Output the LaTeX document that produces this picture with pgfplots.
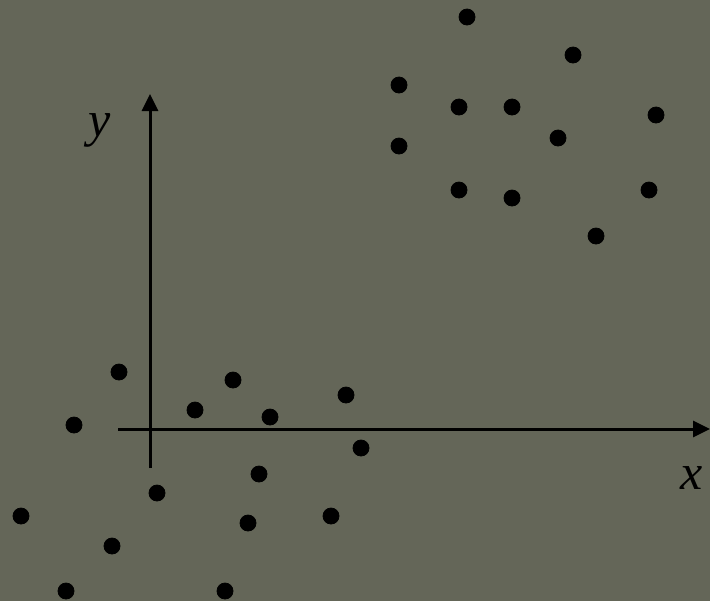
\documentclass[border=0pt]{standalone}
\usepackage{pgfplots}
\pgfplotsset{compat=1.18}
\usepackage{fontspec}
\setmainfont{Liberation Serif}
\usetikzlibrary{arrows.meta}
\definecolor{bg}{HTML}{646658}

\pgfplotstableread{
x y
467 17
573 55
399 85
459 107
512 107
656 115
558 138
399 146
459 190
512 198
649 190
596 236
119 372
233 380
195 410
346 395
74 425
270 417
361 448
259 474
157 493
21 516
248 523
331 516
112 546
66 591
225 591
}\points

\begin{document}
\begin{tikzpicture}
\begin{axis}[
  scale only axis,
  width=355pt, height=300.5pt,
  xmin=0, xmax=710, ymin=0, ymax=601,
  y dir=reverse,
  axis lines=none,
  clip=true,
  axis background/.style={fill=bg},
]
% coordinate axes with arrow heads
\draw[line width=1.5pt, -{Triangle[length=8.5pt,width=8pt]}] (axis cs:118,429) -- (axis cs:710,429);
\draw[line width=1.5pt, -{Triangle[length=8.5pt,width=8pt]}] (axis cs:150,468) -- (axis cs:150,94);
\node[font=\fontsize{25}{30}\selectfont\itshape] at (axis cs:100,130) {y};
\node[font=\fontsize{25}{30}\selectfont\itshape] at (axis cs:692,478) {x};
\addplot[only marks, mark=*, mark size=4pt, black] table[x=x, y=y] {\points};
\end{axis}
\end{tikzpicture}
\end{document}
